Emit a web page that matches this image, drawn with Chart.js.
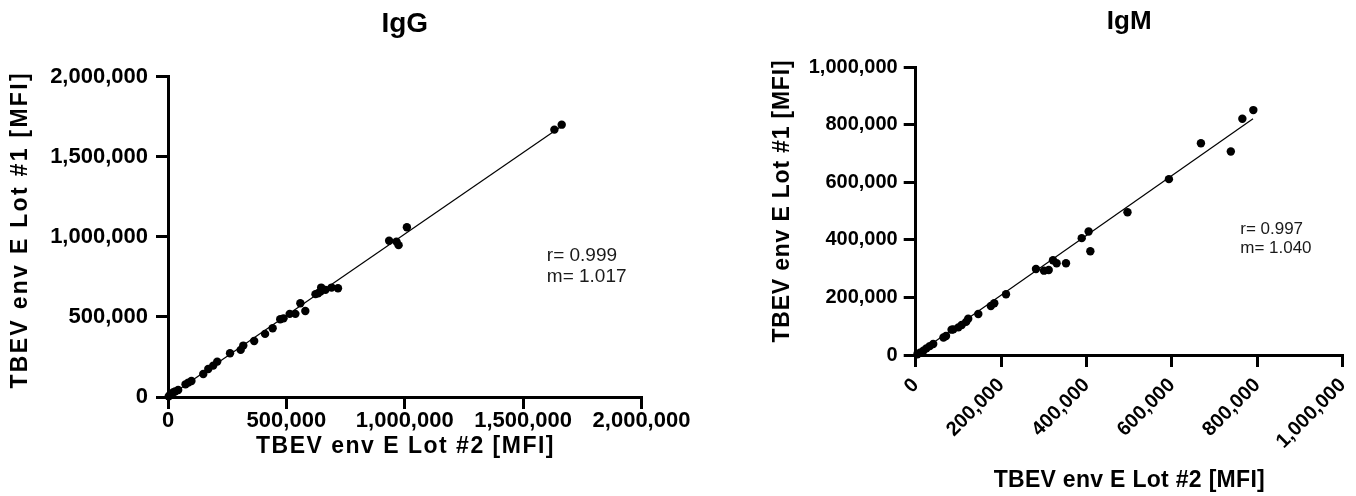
<!DOCTYPE html>
<html>
<head>
<meta charset="utf-8">
<script src="https://cdn.jsdelivr.net/npm/chart.js@4.4.1/dist/chart.umd.min.js"></script>
<style>
    html, body { margin: 0; padding: 0; background: #fff; overflow: hidden; }
    body { width: 1356px; height: 496px; position: relative; }
    .panel { position: absolute; top: 0; }
    #iggPanel { left: 0; }
    #igmPanel { left: 680px; }
</style>
</head>
<body>
<div class="panel" id="iggPanel"><canvas id="iggChart" width="740" height="496"></canvas></div>
<div class="panel" id="igmPanel"><canvas id="igmChart" width="700" height="496"></canvas></div>
<script>
const FONT = '"Liberation Sans", Arial, Helvetica, sans-serif';

const X_TITLE = 'TBEV env E Lot #2 [MFI]';
const Y_TITLE = 'TBEV env E Lot #1 [MFI]';

// IgG panel
const IGG_LOT2 = [1663000, 1632000, 1009000, 934000, 965000, 974000, 718000, 691000, 665000, 647000,
    644000, 623000, 634000, 559000, 580000, 538000, 514000, 488000, 474000, 442000,
    410000, 364000, 318000, 307000, 262000, 208000, 191000, 170000, 149000, 99000,
    86000, 74000, 43000, 21000, 8000, 3000, 30000];
const IGG_LOT1 = [1700000, 1669000, 1060000, 975000, 970000, 948000, 679000, 683000, 669000, 683000,
    658000, 642000, 648000, 585000, 537000, 519000, 519000, 491000, 485000, 429000,
    394000, 350000, 321000, 294000, 273000, 221000, 196000, 175000, 144000, 100000,
    90000, 79000, 44000, 29000, 12000, 4000, 34000];
const IGG_FIT_LOT2 = [0, 1660000];
const IGG_FIT_LOT1 = [0, 1688000];
const IGG_TICKS = [0, 500000, 1000000, 1500000, 2000000];
const IGG_STATS = ['r= 0.999', 'm= 1.017'];
const IGG_STATS_AT = [1600000, 881000];

// IgM panel
const IGM_LOT2 = [790700, 765000, 668000, 738000, 593000, 496000, 405000, 388800, 409000, 352000,
    321500, 330000, 311500, 300500, 281700, 211500, 184000, 176000, 146600, 123000,
    118000, 107700, 100000, 88000, 84000, 71000, 65000, 41000, 33000, 25000,
    18000, 10000, 4000];
const IGM_LOT1 = [851000, 821000, 736000, 707000, 611000, 496000, 429000, 406000, 360600, 319000,
    329000, 319000, 295600, 293000, 299000, 211000, 180000, 170000, 142600, 126000,
    115000, 104000, 96000, 89000, 88000, 66000, 61000, 38000, 31000, 23000,
    15000, 8000, 2500];
const IGM_FIT_LOT2 = [0, 790000];
const IGM_FIT_LOT1 = [0, 821000];
const IGM_TICKS = [0, 200000, 400000, 600000, 800000, 1000000];
const IGM_STATS = ['r= 0.997', 'm= 1.040'];
const IGM_STATS_AT = [760000, 437000];

function toPoints(xs, ys) {
    return xs.map((x, i) => ({ x: x, y: ys[i] }));
}

// axis titles (letter-spaced like the original) and the r/m note
const extraText = {
    id: 'extraText',
    afterDraw(chart, args, o) {
        const { ctx, chartArea, scales } = chart;
        ctx.save();
        ctx.fillStyle = '#000';
        ctx.textAlign = 'center';
        ctx.textBaseline = 'middle';
        ctx.font = 'bold ' + o.titleSize + 'px ' + FONT;

        ctx.letterSpacing = o.xSpacing + 'px';
        ctx.fillText(X_TITLE, (chartArea.left + chartArea.right) / 2 + o.xSpacing / 2, o.xTitleY);

        ctx.save();
        ctx.letterSpacing = o.ySpacing + 'px';
        ctx.translate(o.yTitleX, o.yTitleY);
        ctx.rotate(-Math.PI / 2);
        ctx.fillText(Y_TITLE, o.ySpacing / 2, 0);
        ctx.restore();

        ctx.letterSpacing = '0px';
        ctx.fillStyle = '#1a1a1a';
        ctx.textAlign = 'left';
        ctx.font = o.noteSize + 'px ' + FONT;
        const x = scales.x.getPixelForValue(o.noteAt[0]);
        const y = scales.y.getPixelForValue(o.noteAt[1]);
        o.note.forEach((line, i) => ctx.fillText(line, x, y + i * o.noteGap));
        ctx.restore();
    }
};

function axis(ticks, o) {
    return {
        type: 'linear',
        min: ticks[0],
        max: ticks[ticks.length - 1],
        afterBuildTicks: s => { s.ticks = ticks.map(v => ({ value: v })); },
        afterFit: s => {
            if (o.width) s.width = o.width;
            if (o.height) s.height = o.height;
        },
        border: { display: true, color: '#000', width: 3 },
        grid: {
            drawOnChartArea: false,
            drawTicks: true,
            tickLength: o.tickLength,
            lineWidth: 3,
            color: '#000'
        },
        ticks: {
            color: '#000',
            padding: o.padding,
            autoSkip: false,
            minRotation: o.rotation || 0,
            maxRotation: o.rotation || 0,
            font: { family: FONT, size: o.fontSize, weight: 'bold', lineHeight: 1 },
            callback: v => v.toLocaleString('en-US')
        },
        title: { display: false }
    };
}

function makeChart(id, cfg) {
    return new Chart(document.getElementById(id), {
        type: 'scatter',
        data: {
            datasets: [{
                data: toPoints(cfg.lot2, cfg.lot1),
                pointRadius: 4.2,
                pointHoverRadius: 4.2,
                pointBackgroundColor: '#000',
                pointBorderWidth: 0,
                clip: false
            }, {
                data: toPoints(cfg.fitX, cfg.fitY),
                showLine: true,
                borderColor: '#000',
                borderWidth: 1.2,
                pointRadius: 0,
                clip: false
            }]
        },
        options: {
            responsive: false,
            animation: false,
            layout: { padding: cfg.padding },
            plugins: {
                legend: { display: false },
                tooltip: { enabled: false },
                title: {
                    display: true,
                    text: cfg.title,
                    fullSize: false,
                    color: '#000',
                    font: { family: FONT, size: cfg.titleSize, weight: 'bold', lineHeight: 1.2 },
                    padding: cfg.titlePadding
                },
                extraText: cfg.text
            },
            scales: {
                x: axis(cfg.ticks, cfg.xAxis),
                y: axis(cfg.ticks, cfg.yAxis)
            }
        },
        plugins: [extraText]
    });
}

makeChart('iggChart', {
    title: 'IgG',
    titleSize: 28,
    titlePadding: { top: 7, bottom: 36 },
    lot2: IGG_LOT2, lot1: IGG_LOT1,
    fitX: IGG_FIT_LOT2, fitY: IGG_FIT_LOT1,
    ticks: IGG_TICKS,
    padding: { left: 0, right: 98.5, top: 0, bottom: 0 },
    xAxis: { height: 99, tickLength: 12, padding: 1, fontSize: 22 },
    yAxis: { width: 168, tickLength: 12, padding: 8, fontSize: 22 },
    text: {
        titleSize: 23, xSpacing: 1.5, ySpacing: 2.3,
        xTitleY: 447, yTitleX: 21, yTitleY: 231,
        note: IGG_STATS, noteAt: IGG_STATS_AT, noteSize: 19, noteGap: 21
    }
});

makeChart('igmChart', {
    title: 'IgM',
    titleSize: 26,
    titlePadding: { top: 6, bottom: 30 },
    lot2: IGM_LOT2, lot1: IGM_LOT1,
    fitX: IGM_FIT_LOT2, fitY: IGM_FIT_LOT1,
    ticks: IGM_TICKS,
    padding: { left: 0, right: 37.3, top: 0, bottom: 0 },
    xAxis: { height: 141, tickLength: 12, padding: 8, fontSize: 20, rotation: 45 },
    yAxis: { width: 235.7, tickLength: 12, padding: 6, fontSize: 20 },
    text: {
        titleSize: 23, xSpacing: 0.3, ySpacing: 0.8,
        xTitleY: 481, yTitleX: 102.5, yTitleY: 201.5,
        note: IGM_STATS, noteAt: IGM_STATS_AT, noteSize: 17, noteGap: 19
    }
});
</script>
</body>
</html>
